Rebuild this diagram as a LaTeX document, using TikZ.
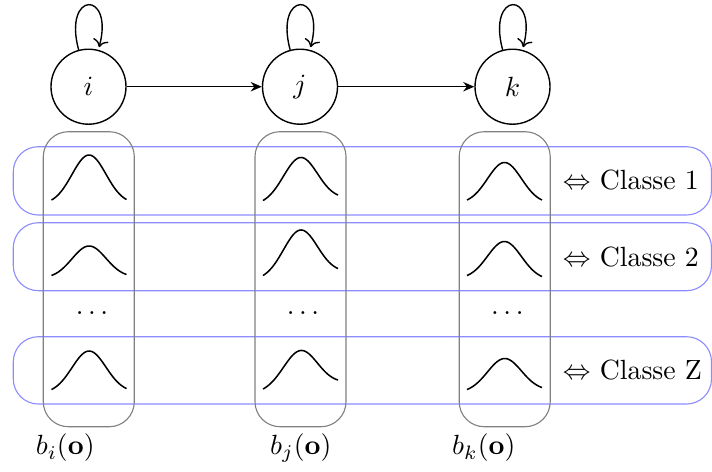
\documentclass[tikz,border=0pt]{standalone}
\usepackage{tikz}
\usepackage{amssymb}
\usepackage{amsmath}
\usetikzlibrary{arrows.meta}
\colorlet{gax}{black!50}
\colorlet{blx}{blue!45}
\tikzset{
    state/.style={draw,circle,line width=0.5pt,minimum size=27pt,inner sep=0pt},
    colbox/.style={gax,rounded corners=9pt},
    rowbox/.style={blx,rounded corners=9pt},
    bell/.style={black,line width=0.55pt},
    trans/.style={line width=0.5pt,-{Stealth[length=4pt,width=3.4pt,inset=1.3pt]}}
}

\begin{document}
\begin{tikzpicture}[x=0.36pt,y=-0.36pt]
            \useasboundingbox (0,0) rectangle (712,471);
            \node [state] (i) at (88.5,86.7) {$i$};
            \node [state] (j) at (300,86.7) {$j$};
            \node [state] (k) at (512.5,86.7) {$k$};
            \draw [trans] (i) -- (j);
            \draw [trans] (j) -- (k);
            \foreach \s in {i,j,k} {
                \path [trans] (\s) edge [loop above] (\s);
            }
            \draw [rowbox] (13.3,146.7) rectangle (711.5,215);
            \draw [rowbox] (13.3,222.7) rectangle (711.5,290.7);
            \draw [rowbox] (13.3,336.7) rectangle (711.5,404);
            \foreach \cx in {88.8,300.5,504.7} {
                \draw [colbox] (\cx-45.5,131.7) rectangle (\cx+45.5,426.7);
            }
            \foreach \mx/\yl/\yr/\yt in {
                    89/200/199.5/155, 89/275.5/274.5/246, 89/389.5/388.5/351,
                    300.5/200.5/195/157.5, 300.5/275.5/268.5/230, 300.5/389/380/350.5,
                    504.5/200/200/162.5, 504.5/275.5/276.5/241.5, 504.5/389.5/387.5/358.5} {
                \draw [bell] plot [domain=-37.5:37.5,samples=50,smooth]
                    ({\mx+\x},{\yl+(\yr-\yl)*(\x+37.5)/75-((\yl+\yr)/2-\yt)*(exp(-((\x)*(\x))/578)-0.088)/0.912});
            }
            \node (di) at (94.3,313.3) {$\dots$};
            \node (dj) at (305.3,313.3) {$\dots$};
            \node (dk) at (509.7,313.3) {$\dots$};
            \node (c1) [anchor=west] at (553,180) {$\Leftrightarrow$ Classe 1};
            \node (c2) [anchor=west] at (553,257) {$\Leftrightarrow$ Classe 2};
            \node (cz) [anchor=west] at (553,369.5) {$\Leftrightarrow$ Classe Z};
            \node (bi) at (65.2,448) {$b_i(\mathbf{o})$};
            \node (bj) at (300.8,448) {$b_j(\mathbf{o})$};
            \node (bk) at (483.8,448) {$b_k(\mathbf{o})$};
        \end{tikzpicture}
\end{document}
